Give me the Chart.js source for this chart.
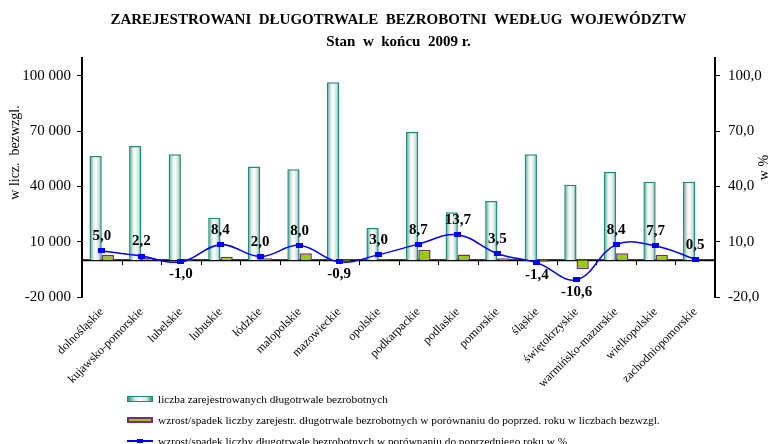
<!DOCTYPE html>
<html>
<head>
<meta charset="utf-8">
<script src="https://cdn.jsdelivr.net/npm/chart.js@4.4.1/dist/chart.umd.min.js"></script>
<style>
    body { margin: 0; background: #fff; }
    #wrap { position: relative; width: 768px; height: 444px; }
    #legend { position: absolute; left: 127px; top: 388px; font: 11.3px 'Liberation Serif', serif; color: #000; }
    .lg-row { display: flex; align-items: center; height: 21px; white-space: nowrap; }
    .lg-sw { width: 26px; height: 6px; margin-right: 5px; box-sizing: border-box; position: relative; }
</style>
</head>
<body>
<div id="wrap">
    <canvas id="chart"></canvas>
    <div id="legend"></div>
</div>
<script>
// ─── DATA ─────────────────────────────────────────────────────────────────────
const regions = ['dolnośląskie', 'kujawsko-pomorskie', 'lubelskie', 'lubuskie', 'łódzkie', 'małopolskie',
    'mazowieckie', 'opolskie', 'podkarpackie', 'podlaskie', 'pomorskie', 'śląskie', 'świętokrzyskie',
    'warmińsko-mazurskie', 'wielkopolskie', 'zachodniopomorskie'];
const longTermUnemployed = [56600, 62000, 57500, 23000, 50800, 49400, 96500, 17400, 69500, 26000, 32100,
    57500, 40900, 47800, 42600, 42600];
const changeAbsolute = [2800, 1300, -600, 1800, 1000, 3700, -880, 510, 5600, 3100, 1100, -820, -4900,
    3700, 3000, 210];
const changePercent = [5.0, 2.2, -1.0, 8.4, 2.0, 8.0, -0.9, 3.0, 8.7, 13.7, 3.5, -1.4, -10.6, 8.4, 7.7, 0.5];
const leftTicks = [-20000, 10000, 40000, 70000, 100000];
const rightTicks = [-20, 10, 40, 70, 100];

const seriesLabels = [
    'liczba zarejestrowanych  długotrwale bezrobotnych',
    'wzrost/spadek liczby zarejestr.  długotrwale bezrobotnych w porównaniu do poprzed.  roku w liczbach  bezwzgl.',
    'wzrost/spadek liczby długotrwale bezrobotnych w porównaniu do poprzedniego roku w %'
];

// ─── HELPERS ──────────────────────────────────────────────────────────────────
const SERIF = "'Liberation Serif', 'Times New Roman', serif";
const TEAL = '#1e8c78';
const fmtThousands = v => (v < 0 ? '-' : '') + String(Math.abs(v)).replace(/\B(?=(\d{3})+(?!\d))/g, ' ');
const fmtPct = v => v.toFixed(1).replace('.', ',');

// small flat marker used on the % line
const marker = document.createElement('canvas');
marker.width = 7;
marker.height = 5;
marker.getContext('2d').fillStyle = '#0000ff';
marker.getContext('2d').fillRect(0, 0, 7, 5);

// gradient fill of the tall bars, built per bar from its own geometry
const barShade = {
    id: 'barShade',
    beforeDatasetDraw(chart, args) {
        if (args.index !== 0) return;
        const ctx = chart.ctx;
        args.meta.data.forEach(bar => {
            const l = bar.x - bar.width / 2, r = bar.x + bar.width / 2;
            const g = ctx.createLinearGradient(l, 0, r, 0);
            g.addColorStop(0, '#2c8f80');
            g.addColorStop(0.3, '#d9ece6');
            g.addColorStop(0.5, '#ffffff');
            g.addColorStop(0.78, '#cfe3dc');
            g.addColorStop(1, '#2c8f80');
            bar.options = Object.assign({}, bar.options, { backgroundColor: g });
        });
    }
};

// black category axis at value 0 with tick marks between categories
const zeroAxis = {
    id: 'zeroAxis',
    beforeDatasetsDraw(chart) {
        const { ctx, chartArea: a, scales: { x, y } } = chart;
        const y0 = y.getPixelForValue(0);
        ctx.save();
        ctx.strokeStyle = '#000';
        ctx.lineWidth = 2;
        ctx.beginPath();
        ctx.moveTo(a.left, y0);
        ctx.lineTo(a.right, y0);
        ctx.stroke();
        ctx.lineWidth = 1;
        ctx.beginPath();
        for (let i = 1; i < regions.length; i++) {
            const px = Math.round(x.getPixelForValue(i - 0.5)) + 0.5;
            ctx.moveTo(px, y0);
            ctx.lineTo(px, y0 + 5);
        }
        ctx.stroke();
        ctx.restore();
    }
};

// bold value labels on the % line
const pctLabels = {
    id: 'pctLabels',
    afterDatasetsDraw(chart) {
        const ctx = chart.ctx;
        const meta = chart.getDatasetMeta(2);
        ctx.save();
        ctx.font = 'bold 15px ' + SERIF;
        ctx.fillStyle = '#000';
        ctx.textAlign = 'center';
        meta.data.forEach((pt, i) => {
            const v = changePercent[i];
            ctx.textBaseline = v < 0 ? 'top' : 'bottom';
            ctx.fillText(fmtPct(v), pt.x, v < 0 ? pt.y + 5 : pt.y - 7);
        });
        ctx.restore();
    }
};

// axis titles (both read bottom-to-top)
const axisTitles = {
    id: 'axisTitles',
    afterDraw(chart) {
        const { ctx, chartArea: a } = chart;
        const put = (txt, x, y) => {
            ctx.save();
            ctx.translate(x, y);
            ctx.rotate(-Math.PI / 2);
            ctx.fillText(txt, 0, 0);
            ctx.restore();
        };
        ctx.save();
        ctx.font = '14px ' + SERIF;
        ctx.fillStyle = '#000';
        ctx.textAlign = 'center';
        ctx.textBaseline = 'middle';
        put('w licz.  bezwzgl.', a.left - 67, a.top + 95);
        put('w %', chart.scales.y1.right - 4, a.top + 110);
        ctx.restore();
    }
};

// ─── CHART ────────────────────────────────────────────────────────────────────
const chart = new Chart(document.getElementById('chart'), {
    type: 'bar',
    data: {
        labels: regions,
        datasets: [
            {
                label: seriesLabels[0],
                data: longTermUnemployed,
                backgroundColor: () => '#ffffff',
                borderColor: TEAL,
                borderWidth: 1.5,
                yAxisID: 'y',
                order: 1
            },
            {
                label: seriesLabels[1],
                data: changeAbsolute,
                backgroundColor: '#99cc00',
                borderColor: '#7b2a7b',
                borderWidth: 1.5,
                yAxisID: 'y',
                order: 2
            },
            {
                label: seriesLabels[2],
                data: changePercent,
                type: 'line',
                borderColor: '#0000ff',
                borderWidth: 1.5,
                backgroundColor: '#0000ff',
                pointStyle: marker,
                pointRadius: 3.5,
                tension: 0.4,
                fill: false,
                yAxisID: 'y1',
                order: 0
            }
        ]
    },
    options: {
        responsive: true,
        maintainAspectRatio: false,
        animation: false,
        datasets: { bar: { categoryPercentage: 0.62, barPercentage: 1.0 } },
        layout: { padding: 0 },
        plugins: {
            legend: { display: false },
            tooltip: { enabled: false },
            title: {
                display: true,
                fullSize: false,
                text: ['ZAREJESTROWANI  DŁUGOTRWALE  BEZROBOTNI  WEDŁUG  WOJEWÓDZTW', 'Stan  w  końcu  2009 r.'],
                color: '#000',
                font: { family: SERIF, size: 15, weight: 'bold', lineHeight: 1.45 },
                padding: { top: 9, bottom: 5 }
            }
        },
        scales: {
            x: {
                grid: { display: false },
                border: { display: false },
                ticks: {
                    color: '#000',
                    font: { family: SERIF, size: 12 },
                    minRotation: 45,
                    maxRotation: 45,
                    autoSkip: false,
                    padding: 0
                },
                afterFit: s => { s.height = 147; }
            },
            y: {
                position: 'left',
                min: -20000,
                max: 110000,
                afterBuildTicks: s => { s.ticks = leftTicks.map(v => ({ value: v })); },
                grid: { drawOnChartArea: false, color: '#000', tickLength: 5 },
                border: { color: '#000', width: 2 },
                ticks: { color: '#000', font: { family: SERIF, size: 15 }, padding: 6, callback: v => fmtThousands(v) },
                afterFit: s => { s.width = 82; }
            },
            y1: {
                position: 'right',
                min: -20,
                max: 110,
                afterBuildTicks: s => { s.ticks = rightTicks.map(v => ({ value: v })); },
                grid: { drawOnChartArea: false, color: '#000', tickLength: 5 },
                border: { color: '#000', width: 2 },
                ticks: { color: '#000', font: { family: SERIF, size: 15 }, padding: 8, callback: v => fmtPct(v) },
                afterFit: s => { s.width = 53; }
            }
        }
    },
    plugins: [barShade, zeroAxis, pctLabels, axisTitles]
});

// ─── LEGEND ───────────────────────────────────────────────────────────────────
const swatches = [
    'background: linear-gradient(90deg, #2c8f80, #d9ece6 30%, #fff 50%, #cfe3dc 78%, #2c8f80); border: 1px solid ' + TEAL + ';',
    'background: #99cc00; border: 2px solid #7b2a7b;',
    'height: 2px; background: #0000ff;'
];
const legendEl = document.getElementById('legend');
chart.data.datasets.forEach((ds, i) => {
    const row = document.createElement('div');
    row.className = 'lg-row';
    const sw = document.createElement('span');
    sw.className = 'lg-sw';
    sw.style.cssText = swatches[i];
    if (i === 2) {
        const mk = document.createElement('span');
        mk.style.cssText = 'position:absolute; left:10px; top:-1px; width:6px; height:4px; background:#0000ff;';
        sw.appendChild(mk);
    }
    const tx = document.createElement('span');
    tx.textContent = ds.label;
    row.appendChild(sw);
    row.appendChild(tx);
    legendEl.appendChild(row);
});
</script>
</body>
</html>
